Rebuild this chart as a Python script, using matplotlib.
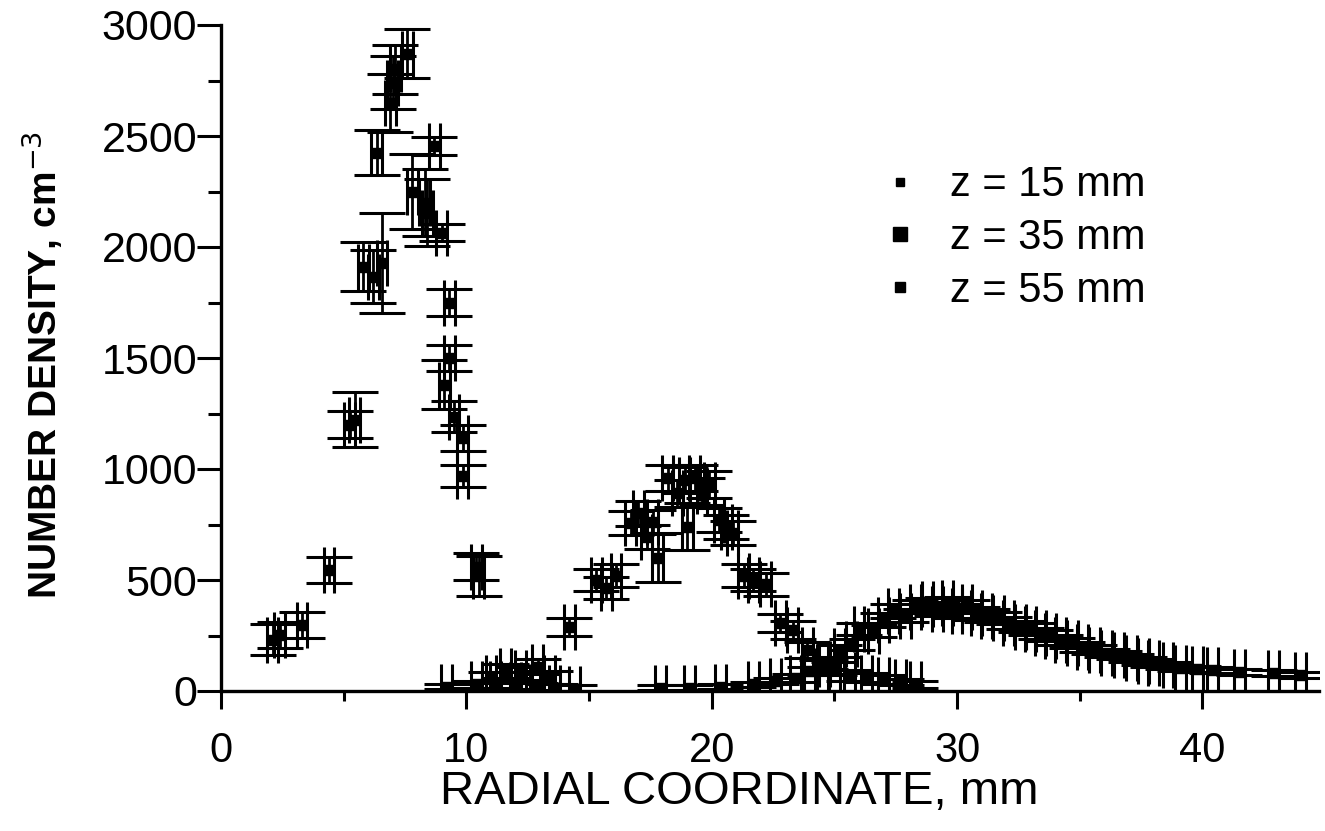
import matplotlib
matplotlib.use('Agg')
import matplotlib.pyplot as plt
from matplotlib.lines import Line2D
from matplotlib.ticker import MultipleLocator

plt.rcParams['font.family'] = ['Liberation Sans', 'DejaVu Sans']

# z = 15 mm
z15_x = [2.1, 2.4, 3.3, 4.4, 5.25, 5.45, 5.8, 6.2, 6.35, 6.56, 6.9, 7.0, 7.1, 7.6,
         7.8, 8.3, 8.4, 8.7, 9.0, 9.1, 9.3, 9.3, 9.5, 9.85, 9.85, 10.4, 10.5,
         11.2, 12.0, 12.8, 13.6, 14.4]
z15_y = [230, 252, 297, 545, 1200, 1222, 1912, 1867, 2425, 1928, 2650, 2740, 2800, 2870,
         2250, 2200, 2155, 2455, 2065, 1380, 1750, 1500, 1236, 1140, 970, 560, 520,
         30, 25, 20, 15, 10]
z15_yerr = [70, 60, 60, 60, 60, 125, 110, 120, 100, 225, 130, 120, 110, 110,
            170, 150, 150, 40, 40, 110, 60, 60, 70, 60, 50, 60, 90,
            15, 15, 15, 15, 15]

# z = 35 mm
z35_x = [9.2, 10.4, 11.0, 11.6, 12.2, 12.9, 13.4, 14.2, 15.3, 15.7, 16.1, 16.7, 17.0,
         17.35, 17.6, 17.8, 18.2, 18.6, 18.9, 19.0, 19.3, 19.6, 19.9, 20.3, 20.6, 20.85,
         21.3, 21.7, 22.2, 22.8, 23.3, 23.9, 24.5, 25.0, 25.6, 26.3, 27.0, 27.7, 28.3]
z35_y = [20, 30, 60, 90, 80, 110, 60, 290, 500, 465, 520, 757, 800,
         694, 760, 600, 960, 890, 950, 740, 960, 900, 930, 770, 740, 712,
         520, 500, 480, 306, 275, 185, 108, 100, 70, 60, 50, 40, 30]
z35_yerr = [10, 15, 25, 30, 30, 35, 30, 40, 50, 50, 50, 55, 55,
            55, 55, 110, 60, 60, 60, 105, 60, 60, 60, 55, 55, 55,
            50, 50, 50, 40, 40, 35, 30, 30, 25, 20, 20, 15, 15]

# z = 55 mm
z55_x = [17.9, 19.1, 20.35, 21.7, 22.6, 23.4, 24.0, 24.6, 25.2, 25.7, 26.0, 26.6, 27.0,
         27.4, 27.9, 28.3, 28.8, 29.2, 29.6, 30.0, 30.4, 30.8, 31.2, 31.7, 32.1, 32.6,
         33.0, 33.4, 33.8, 34.2, 34.7, 35.1, 35.6, 36.1, 36.6, 37.1, 37.6, 38.0, 38.6,
         39.1, 39.8, 40.4, 41.5, 42.9, 44.0]
z55_y = [15, 15, 20, 30, 45, 60, 90, 120, 180, 210, 280, 270, 320,
         360, 340, 380, 390, 370, 395, 360, 380, 350, 340, 330, 306, 290,
         280, 261, 250, 230, 215, 198, 185, 171, 160, 149, 135, 126, 115,
         104, 100, 95, 86, 81, 72]
z55_yerr = [10, 10, 10, 12, 15, 18, 20, 22, 25, 25, 28, 28, 30,
            30, 30, 30, 30, 30, 30, 30, 30, 30, 28, 28, 28, 26,
            26, 25, 25, 24, 22, 22, 20, 20, 18, 18, 16, 16, 15,
            15, 14, 14, 12, 12, 12]

xerr = 0.22
labels = ['z = 15 mm', 'z = 35 mm', 'z = 55 mm']
legend_ms = [6, 10, 7]

fig = plt.figure(figsize=(13.25, 8.31), dpi=100)
ax = fig.add_axes([221 / 1325, 140 / 831, 1098 / 1325, 666 / 831])

for x, y, yerr in [(z15_x, z15_y, z15_yerr), (z35_x, z35_y, z35_yerr), (z55_x, z55_y, z55_yerr)]:
    ax.errorbar(x, y, yerr=yerr, xerr=xerr, fmt='s', ms=7, color='black',
                ecolor='black', elinewidth=2, capsize=16.5, capthick=2.2, zorder=3)

ax.set_xlim(0, 44.75)
ax.set_ylim(0, 3000)
ax.spines['top'].set_visible(False)
ax.spines['right'].set_visible(False)
ax.spines['left'].set_linewidth(2.4)
ax.spines['bottom'].set_linewidth(2.4)

ax.xaxis.set_major_locator(MultipleLocator(10))
ax.xaxis.set_minor_locator(MultipleLocator(5))
ax.yaxis.set_major_locator(MultipleLocator(500))
ax.yaxis.set_minor_locator(MultipleLocator(250))
ax.tick_params(axis='x', which='major', direction='out', length=13, width=2.2, pad=16, labelsize=30)
ax.tick_params(axis='x', which='minor', direction='out', length=7, width=2.2)
ax.tick_params(axis='y', which='major', direction='out', length=17, width=2.2, pad=0, labelsize=31)
ax.tick_params(axis='y', which='minor', direction='out', length=9.5, width=2.2)

ax.set_xlabel('RADIAL COORDINATE, mm', fontsize=34)
ax.xaxis.set_label_coords(0.472, -0.118)
ax.set_ylabel('NUMBER DENSITY, cm$^{-3}$', fontsize=28, fontweight='bold')
ax.yaxis.set_label_coords(-0.142, 0.49)

handles = [Line2D([], [], marker='s', ls='none', color='black', ms=m) for m in legend_ms]
ax.legend(handles, labels, loc='upper left', bbox_to_anchor=(842 / 1325, 1 - 128 / 831),
          bbox_transform=fig.transFigure, frameon=False, fontsize=30,
          handlelength=1.0, handletextpad=0.7, labelspacing=0.3, borderpad=0.4)

fig.savefig('out.png', dpi=100)
